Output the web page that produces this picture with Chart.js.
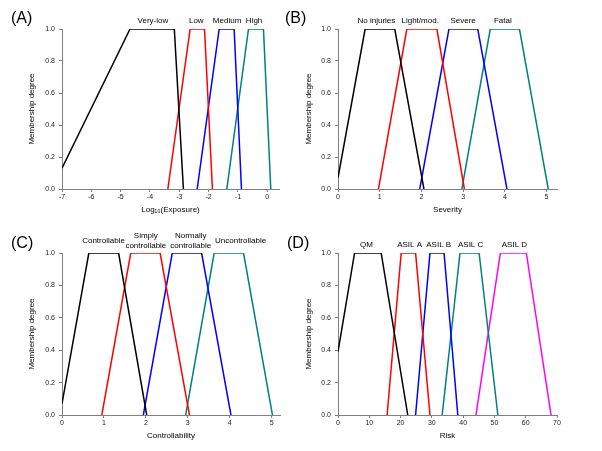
<!DOCTYPE html>
<html>
<head>
<meta charset="utf-8">
<script src="https://cdn.jsdelivr.net/npm/chart.js@4.4.1/dist/chart.umd.min.js"></script>
<style>
  body { margin: 0; background: #fff; width: 602px; height: 451px; position: relative; overflow: hidden;
         font-family: "Liberation Sans", Arial, sans-serif; }
  canvas { position: absolute; }
  .tag { position: absolute; font-size: 16px; line-height: 16px; color: #000; }
</style>
</head>
<body>
<canvas id="chartA" width="301" height="225" style="left:0;top:0"></canvas>
<canvas id="chartB" width="301" height="225" style="left:301px;top:0"></canvas>
<canvas id="chartC" width="301" height="226" style="left:0;top:225px"></canvas>
<canvas id="chartD" width="301" height="226" style="left:301px;top:225px"></canvas>
<div class="tag" style="left:11px;top:10px">(A)</div>
<div class="tag" style="left:285px;top:10px">(B)</div>
<div class="tag" style="left:11px;top:235px">(C)</div>
<div class="tag" style="left:287px;top:235px">(D)</div>
<script>
// (A) exposure
var exposureNames = ['Very-low', 'Low', 'Medium', 'High'];
var exposureX = [[-7, -4.68, -3.17, -2.86], [-3.39, -2.63, -2.14, -1.87], [-2.39, -1.64, -1.13, -0.88], [-1.38, -0.64, -0.13, 0.12]];
var exposureY = [[0.13, 1, 1, 0], [0, 1, 1, 0], [0, 1, 1, 0], [0, 1, 1, 0]];
var exposureLabelAt = [-3.9, -2.42, -1.37, -0.45];

// (B) severity
var severityNames = ['No injuries', 'Light/mod.', 'Severe', 'Fatal'];
var severityX = [[0, 0.65, 1.36, 2.06], [0.97, 1.65, 2.37, 3.03], [1.96, 2.66, 3.35, 4.05], [2.97, 3.65, 4.35, 5.04]];
var severityY = [[0.07, 1, 1, 0], [0, 1, 1, 0], [0, 1, 1, 0], [0, 1, 1, 0]];
var severityLabelAt = [0.92, 1.97, 3.0, 3.95];

// (C) controllability
var controlNames = ['Controllable', ['Simply', 'controllable'], ['Normally', 'controllable'], 'Uncontrollable'];
var controlX = [[0, 0.64, 1.35, 2.02], [0.95, 1.64, 2.34, 3.04], [1.94, 2.63, 3.33, 4.03], [2.95, 3.63, 4.33, 5.02]];
var controlY = [[0.07, 1, 1, 0], [0, 1, 1, 0], [0, 1, 1, 0], [0, 1, 1, 0]];
var controlLabelAt = [0.99, 2.0, 3.07, 4.26];

// (D) risk
var riskNames = ['QM', 'ASIL A', 'ASIL B', 'ASIL C', 'ASIL D'];
var riskX = [[0, 5.3, 13.8, 22.3], [15.7, 20.2, 24.8, 29.4], [24.8, 29.4, 33.9, 38.3], [33.3, 39.0, 45.1, 51.1], [44.1, 51.9, 60.2, 68.1]];
var riskY = [[0.39, 1, 1, 0], [0, 1, 1, 0], [0, 1, 1, 0], [0, 1, 1, 0], [0, 1, 1, 0]];
var riskLabelAt = [9.1, 22.9, 32.2, 42.4, 56.4];

var lineColors = ['#000000', '#ff0000', '#0000ff', '#008080', '#ff00ff'];
var FONT = '"Liberation Sans", Arial, sans-serif';

// writes the set names above the plot
var setLabels = {
  id: 'setLabels',
  afterDraw: function(chart, args, opts) {
    var ctx = chart.ctx;
    var top = chart.chartArea.top;
    ctx.save();
    ctx.font = '8px ' + FONT;
    ctx.fillStyle = '#000';
    ctx.textAlign = 'center';
    ctx.textBaseline = 'middle';
    opts.names.forEach(function(name, i) {
      var lines = [].concat(name);
      var x = chart.scales.x.getPixelForValue(opts.at[i]);
      var y0 = top - opts.rise - (lines.length - 1) * 5;
      lines.forEach(function(line, j) {
        ctx.fillText(line, x, y0 + j * 10);
      });
    });
    ctx.restore();
  }
};

function makePanel(id, names, xs, ys, labelAt, g) {
  var datasets = names.map(function(name, i) {
    return {
      label: [].concat(name).join(' '),
      data: xs[i].map(function(x, k) { return {x: x, y: ys[i][k]}; }),
      borderColor: lineColors[i],
      borderWidth: 1.5,
      pointRadius: 0,
      showLine: true,
      tension: 0
    };
  });
  var axisGrid = { drawOnChartArea: false, drawTicks: true, tickLength: 3, color: '#808080' };
  var axisBorder = { display: true, color: '#808080', width: 1 };
  return new Chart(document.getElementById(id), {
    type: 'scatter',
    data: { datasets: datasets },
    plugins: [setLabels],
    options: {
      responsive: false,
      animation: false,
      layout: { padding: { top: g.top, right: g.right, left: 0, bottom: 0 } },
      plugins: {
        legend: { display: false },
        tooltip: { enabled: false },
        setLabels: { names: names, at: labelAt, rise: g.rise }
      },
      scales: {
        x: {
          type: 'linear',
          min: g.xMin, max: g.xMax,
          grid: axisGrid, border: axisBorder,
          ticks: { stepSize: g.step, includeBounds: false, padding: 1, maxRotation: 0,
                   color: '#222', font: { size: 7, family: FONT } },
          title: { display: true, text: g.xTitle, color: '#000', padding: { top: 0, bottom: 10 },
                   font: { size: 8, family: FONT } },
          afterFit: function(s) { s.height = 36; }
        },
        y: {
          min: 0, max: 1,
          grid: axisGrid, border: axisBorder,
          ticks: { stepSize: 0.2, padding: 4, color: '#222', font: { size: 7, family: FONT },
                   callback: function(v) { return v.toFixed(1); } },
          title: { display: true, text: 'Membership degree', color: '#000', padding: { top: g.yTitlePad, bottom: 0 },
                   font: { size: 8, family: FONT } },
          afterFit: function(s) { s.width = g.left; }
        }
      }
    }
  });
}

makePanel('chartA', exposureNames, exposureX, exposureY, exposureLabelAt,
  { top: 29, right: 22, left: 62, rise: 8, xMin: -7, xMax: 0.4, step: 1,
    xTitle: 'Log\u2081\u2080(Exposure)', yTitlePad: 27 });
makePanel('chartB', severityNames, severityX, severityY, severityLabelAt,
  { top: 29, right: 45, left: 37, rise: 8.5, xMin: 0, xMax: 5.25, step: 1,
    xTitle: 'Severity', yTitlePad: 3 });
makePanel('chartC', controlNames, controlX, controlY, controlLabelAt,
  { top: 28, right: 21, left: 62, rise: 12.5, xMin: 0, xMax: 5.2, step: 1,
    xTitle: 'Controllability', yTitlePad: 27 });
makePanel('chartD', riskNames, riskX, riskY, riskLabelAt,
  { top: 28, right: 45, left: 37, rise: 8, xMin: 0, xMax: 70, step: 10,
    xTitle: 'Risk', yTitlePad: 3 });
</script>
</body>
</html>
